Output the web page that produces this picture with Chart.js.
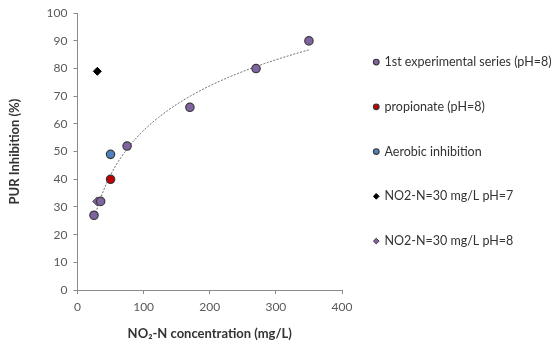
<!DOCTYPE html>
<html>
<head>
<meta charset="utf-8">
<script src="https://cdn.jsdelivr.net/npm/chart.js@4/dist/chart.umd.min.js"></script>
<style>
  html, body { margin: 0; padding: 0; background: #fff; }
  #wrap { width: 552px; height: 342px; position: relative; }
</style>
</head>
<body>
<div id="wrap"><canvas id="c"></canvas></div>
<script>
// NO2-N concentration (mg/L) and PUR inhibition (%) per series
const seriesXFirst = [25, 35, 75, 170, 270, 350];
const seriesYFirst = [27, 32, 52, 66, 80, 90];
const seriesXPropionate = [50];
const seriesYPropionate = [40];
const seriesXAerobic = [50];
const seriesYAerobic = [49];
const seriesXPh7 = [30];
const seriesYPh7 = [79];
const seriesXPh8 = [30];
const seriesYPh8 = [32];

const seriesLabels = [
  '1st experimental series (pH=8)',
  'propionate (pH=8)',
  'Aerobic inhibition',
  'NO2-N=30 mg/L pH=7',
  'NO2-N=30 mg/L pH=8'
];
const xTicks = [0, 100, 200, 300, 400];
const yTicks = [0, 10, 20, 30, 40, 50, 60, 70, 80, 90, 100];

const pairs = (xs, ys) => xs.map((x, i) => ({ x: x, y: ys[i] }));

// Logarithmic least-squares trendline through the 1st experimental series
function logFit(xs, ys) {
  const lx = xs.map(Math.log);
  const n = xs.length;
  const mx = lx.reduce((a, b) => a + b, 0) / n;
  const my = ys.reduce((a, b) => a + b, 0) / n;
  let sxy = 0, sxx = 0;
  for (let i = 0; i < n; i++) {
    sxy += (lx[i] - mx) * (ys[i] - my);
    sxx += (lx[i] - mx) * (lx[i] - mx);
  }
  const a = sxy / sxx;
  const b = my - a * mx;
  return x => a * Math.log(x) + b;
}
const fit = logFit(seriesXFirst, seriesYFirst);
const xMin = Math.min(...seriesXFirst), xMax = Math.max(...seriesXFirst);
const trend = [];
for (let k = 0; k <= 120; k++) {
  const x = xMin + (xMax - xMin) * k / 120;
  trend.push({ x: x, y: fit(x) });
}

const FONT = 'Lato, "Open Sans", sans-serif';
const edge = '#3a3a3a';

new Chart(document.getElementById('c'), {
  type: 'scatter',
  data: {
    datasets: [
      {
        label: 'trend',
        type: 'line',
        data: trend,
        borderColor: '#6a6a6a',
        borderWidth: 1,
        borderDash: [2, 1.5],
        pointRadius: 0,
        fill: false,
        tension: 0,
        order: 10
      },
      {
        label: seriesLabels[4],
        data: pairs(seriesXPh8, seriesYPh8),
        pointStyle: 'rectRot',
        pointRadius: 4.5,
        backgroundColor: '#8064A2',
        borderColor: '#3a3a3a',
        borderWidth: 1,
        order: 5
      },
      {
        label: seriesLabels[0],
        data: pairs(seriesXFirst, seriesYFirst),
        pointStyle: 'circle',
        pointRadius: 4.2,
        backgroundColor: '#8064A2',
        borderColor: edge,
        borderWidth: 1.2,
        order: 1
      },
      {
        label: seriesLabels[1],
        data: pairs(seriesXPropionate, seriesYPropionate),
        pointStyle: 'circle',
        pointRadius: 4.2,
        backgroundColor: '#C00000',
        borderColor: edge,
        borderWidth: 1.2,
        order: 2
      },
      {
        label: seriesLabels[2],
        data: pairs(seriesXAerobic, seriesYAerobic),
        pointStyle: 'circle',
        pointRadius: 4.2,
        backgroundColor: '#4F81BD',
        borderColor: edge,
        borderWidth: 1.2,
        order: 3
      },
      {
        label: seriesLabels[3],
        data: pairs(seriesXPh7, seriesYPh7),
        pointStyle: 'rectRot',
        pointRadius: 4,
        backgroundColor: '#000000',
        borderColor: '#000000',
        borderWidth: 1,
        order: 4
      }
    ]
  },
  options: {
    responsive: true,
    maintainAspectRatio: false,
    animation: false,
    layout: { padding: { top: 6, left: 7, right: 0, bottom: 0 } },
    plugins: {
      tooltip: { enabled: false },
      legend: {
        position: 'right',
        fullSize: false,
        maxWidth: 210,
        labels: {
          usePointStyle: true,
          boxWidth: 4,
          boxHeight: 4,
          padding: 32.25,
          color: '#333',
          font: { family: FONT, size: 12.5 },
          filter: item => item.text !== 'trend',
          sort: (a, b) => seriesLabels.indexOf(a.text) - seriesLabels.indexOf(b.text)
        }
      }
    },
    scales: {
      x: {
        type: 'linear',
        min: 0,
        max: 400,
        afterBuildTicks: s => { s.ticks = xTicks.map(v => ({ value: v })); },
        border: { color: '#8a8a8a', width: 1 },
        grid: { display: true, drawOnChartArea: false, drawTicks: true, tickLength: 4, color: '#8a8a8a' },
        ticks: { color: '#595959', font: { family: FONT, size: 12 }, padding: 6 },
        title: {
          display: true,
          text: 'NO\u2082-N concentration (mg/L)',
          color: '#333',
          font: { family: FONT, size: 13, weight: 'bold' },
          padding: { top: 6, bottom: 0 }
        }
      },
      y: {
        type: 'linear',
        min: 0,
        max: 100,
        afterBuildTicks: s => { s.ticks = yTicks.map(v => ({ value: v })); },
        border: { color: '#8a8a8a', width: 1 },
        grid: { display: true, drawOnChartArea: false, drawTicks: true, tickLength: 4, color: '#8a8a8a' },
        ticks: { color: '#595959', font: { family: FONT, size: 12 }, padding: 6 },
        title: {
          display: true,
          text: 'PUR Inhibition (%)',
          color: '#333',
          font: { family: FONT, size: 13, weight: 'bold' },
          padding: { top: 0, bottom: 18 }
        }
      }
    }
  }
});
</script>
</body>
</html>
